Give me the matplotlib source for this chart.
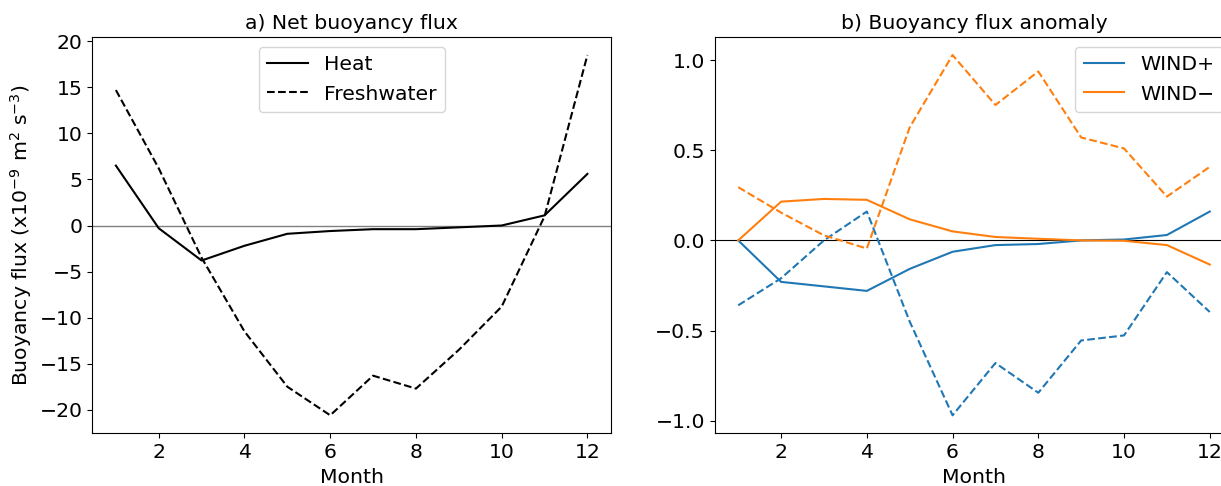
import matplotlib
matplotlib.use('Agg')
import matplotlib.pyplot as plt

months = list(range(1, 13))

heat = [6.5, -0.3, -3.8, -2.2, -0.9, -0.6, -0.4, -0.4, -0.2, 0.0, 1.1, 5.6]
freshwater = [14.7, 6.2, -3.5, -11.5, -17.5, -20.6, -16.3, -17.7, -13.5, -8.8, 1.0, 18.5]

windp_solid = [0.0, -0.23, -0.255, -0.28, -0.158, -0.063, -0.026, -0.02, 0.0, 0.005, 0.03, 0.16]
windp_dash = [-0.36, -0.21, 0.0, 0.16, -0.45, -0.97, -0.68, -0.845, -0.555, -0.527, -0.176, -0.397]
windm_solid = [0.0, 0.215, 0.23, 0.225, 0.117, 0.05, 0.019, 0.009, 0.0, -0.002, -0.026, -0.134]
windm_dash = [0.295, 0.154, 0.028, -0.045, 0.627, 1.028, 0.751, 0.937, 0.571, 0.51, 0.243, 0.408]

fs = 14.7
plt.rcParams['font.size'] = fs

fig = plt.figure(figsize=(12.21, 4.86), dpi=100)
ax1 = fig.add_axes([0.0756, 0.1084, 0.4248, 0.8154])
ax2 = fig.add_axes([0.5853, 0.1084, 0.4248, 0.8154])

# a) net buoyancy flux
ax1.axhline(0, color='gray', lw=1)
ax1.plot(months, heat, 'k-', lw=1.5, label='Heat')
ax1.plot(months, freshwater, 'k--', lw=1.5, label='Freshwater')
ax1.set_xticks([2, 4, 6, 8, 10, 12])
ax1.set_yticks([-20, -15, -10, -5, 0, 5, 10, 15, 20])
ax1.set_xlabel('Month')
ax1.set_ylabel('Buoyancy flux (x10$^{-9}$ m$^{2}$ s$^{-3}$)')
ax1.set_title('a) Net buoyancy flux', fontsize=fs)
ax1.legend(loc='upper center')

# b) anomaly
ax2.axhline(0, color='k', lw=0.8)
ax2.plot(months, windp_solid, '-', color='C0', lw=1.5, label='WIND+')
ax2.plot(months, windm_solid, '-', color='C1', lw=1.5, label='WIND\u2212')
ax2.plot(months, windp_dash, '--', color='C0', lw=1.5)
ax2.plot(months, windm_dash, '--', color='C1', lw=1.5)
ax2.set_xticks([2, 4, 6, 8, 10, 12])
ax2.set_yticks([-1.0, -0.5, 0.0, 0.5, 1.0])
ax2.set_xlabel('Month')
ax2.set_title('b) Buoyancy flux anomaly', fontsize=fs)
ax2.legend(loc='upper right')

fig.savefig('out.png', dpi=100)
